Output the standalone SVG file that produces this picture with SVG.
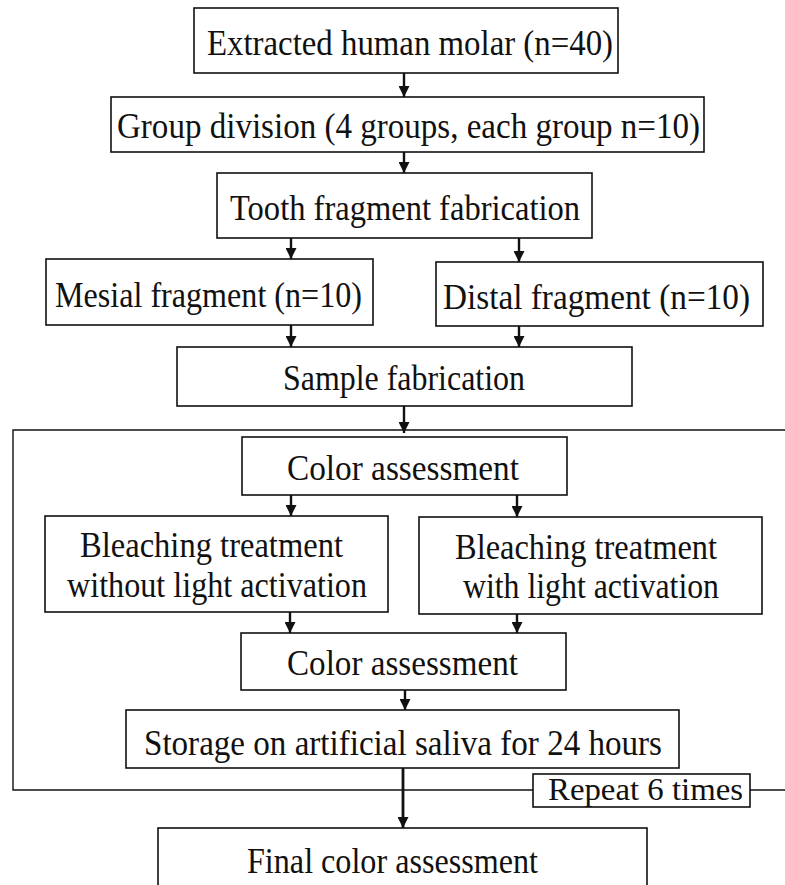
<svg xmlns="http://www.w3.org/2000/svg" width="785" height="885" viewBox="0 0 785 885">
<style>
.box{fill:#fff;stroke:#111;stroke-width:1.6}
.t{font-family:"Liberation Serif","Times New Roman",serif;font-size:35px;fill:#111}
.e{stroke:#111;stroke-width:2.4;fill:none}
.loop{stroke:#111;stroke-width:1.4;fill:none}
</style>
<defs>
<marker id="ah" markerUnits="userSpaceOnUse" markerWidth="11" markerHeight="11" refX="10" refY="5" orient="auto" viewBox="0 0 10 10">
<path d="M0,0 L10,5 L0,10 z" fill="#111"/>
</marker>
</defs>
<rect width="785" height="885" fill="#fff"/>
<g id="connectors">
<path class="loop" d="M785,430 L13,430 L13,790 L533,790 M750,790 L785,790"/>
<line class="e" x1="404" y1="73" x2="404" y2="97" marker-end="url(#ah)"/>
<line class="e" x1="404" y1="152" x2="404" y2="173" marker-end="url(#ah)"/>
<line class="e" x1="291" y1="238" x2="291" y2="259" marker-end="url(#ah)"/>
<line class="e" x1="519" y1="238" x2="519" y2="262" marker-end="url(#ah)"/>
<line class="e" x1="291" y1="325" x2="291" y2="347" marker-end="url(#ah)"/>
<line class="e" x1="519" y1="326" x2="519" y2="347" marker-end="url(#ah)"/>
<line class="e" x1="404" y1="406" x2="404" y2="433" marker-end="url(#ah)"/>
<line class="e" x1="291" y1="495" x2="291" y2="516" marker-end="url(#ah)"/>
<line class="e" x1="517" y1="495" x2="517" y2="517" marker-end="url(#ah)"/>
<line class="e" x1="290" y1="612" x2="290" y2="633" marker-end="url(#ah)"/>
<line class="e" x1="517" y1="614" x2="517" y2="633" marker-end="url(#ah)"/>
<line class="e" x1="405" y1="690" x2="405" y2="710" marker-end="url(#ah)"/>
<line class="e" x1="403" y1="768" x2="403" y2="828" style="stroke-width:2.8" marker-end="url(#ah)"/>
</g>
<g id="n1"><rect class="box" x="194" y="8" width="424" height="65"/><text class="t" x="207" y="55" textLength="406" lengthAdjust="spacingAndGlyphs">Extracted human molar (n=40)</text></g>
<g id="n2"><rect class="box" x="111" y="97" width="593" height="55"/><text class="t" x="117" y="138" textLength="583" lengthAdjust="spacingAndGlyphs">Group division (4 groups, each group n=10)</text></g>
<g id="n3"><rect class="box" x="217" y="173" width="375" height="65"/><text class="t" x="230" y="220" textLength="350" lengthAdjust="spacingAndGlyphs">Tooth fragment fabrication</text></g>
<g id="n4"><rect class="box" x="46" y="259" width="327" height="66"/><text class="t" x="55" y="307" textLength="307" lengthAdjust="spacingAndGlyphs">Mesial fragment (n=10)</text></g>
<g id="n5"><rect class="box" x="436" y="262" width="327" height="64"/><text class="t" x="443" y="309" textLength="307" lengthAdjust="spacingAndGlyphs">Distal fragment (n=10)</text></g>
<g id="n6"><rect class="box" x="177" y="347" width="455" height="59"/><text class="t" x="283" y="390" textLength="242" lengthAdjust="spacingAndGlyphs">Sample fabrication</text></g>
<g id="n7"><rect class="box" x="242" y="437" width="325" height="58"/><text class="t" x="287" y="480" textLength="232" lengthAdjust="spacingAndGlyphs">Color assessment</text></g>
<g id="n8"><rect class="box" x="45" y="516" width="343" height="96"/><text class="t" x="80" y="557" textLength="263" lengthAdjust="spacingAndGlyphs">Bleaching treatment</text><text class="t" x="67" y="597" textLength="300" lengthAdjust="spacingAndGlyphs">without light activation</text></g>
<g id="n9"><rect class="box" x="419" y="517" width="343" height="97"/><text class="t" x="455" y="559" textLength="262" lengthAdjust="spacingAndGlyphs">Bleaching treatment</text><text class="t" x="463" y="598" textLength="256" lengthAdjust="spacingAndGlyphs">with light activation</text></g>
<g id="n10"><rect class="box" x="241" y="633" width="325" height="57"/><text class="t" x="287" y="675" textLength="231" lengthAdjust="spacingAndGlyphs">Color assessment</text></g>
<g id="n11"><rect class="box" x="126" y="710" width="553" height="58"/><text class="t" x="144" y="755" textLength="518" lengthAdjust="spacingAndGlyphs">Storage on artificial saliva for 24 hours</text></g>
<g id="n12"><rect class="box" x="533" y="774" width="217" height="33"/><text class="t" x="548" y="800" style="font-size:32px" textLength="195" lengthAdjust="spacingAndGlyphs">Repeat 6 times</text></g>
<g id="n13"><rect class="box" x="158" y="828" width="489" height="80"/><text class="t" x="247" y="873" textLength="291" lengthAdjust="spacingAndGlyphs">Final color assessment</text></g>
</svg>
